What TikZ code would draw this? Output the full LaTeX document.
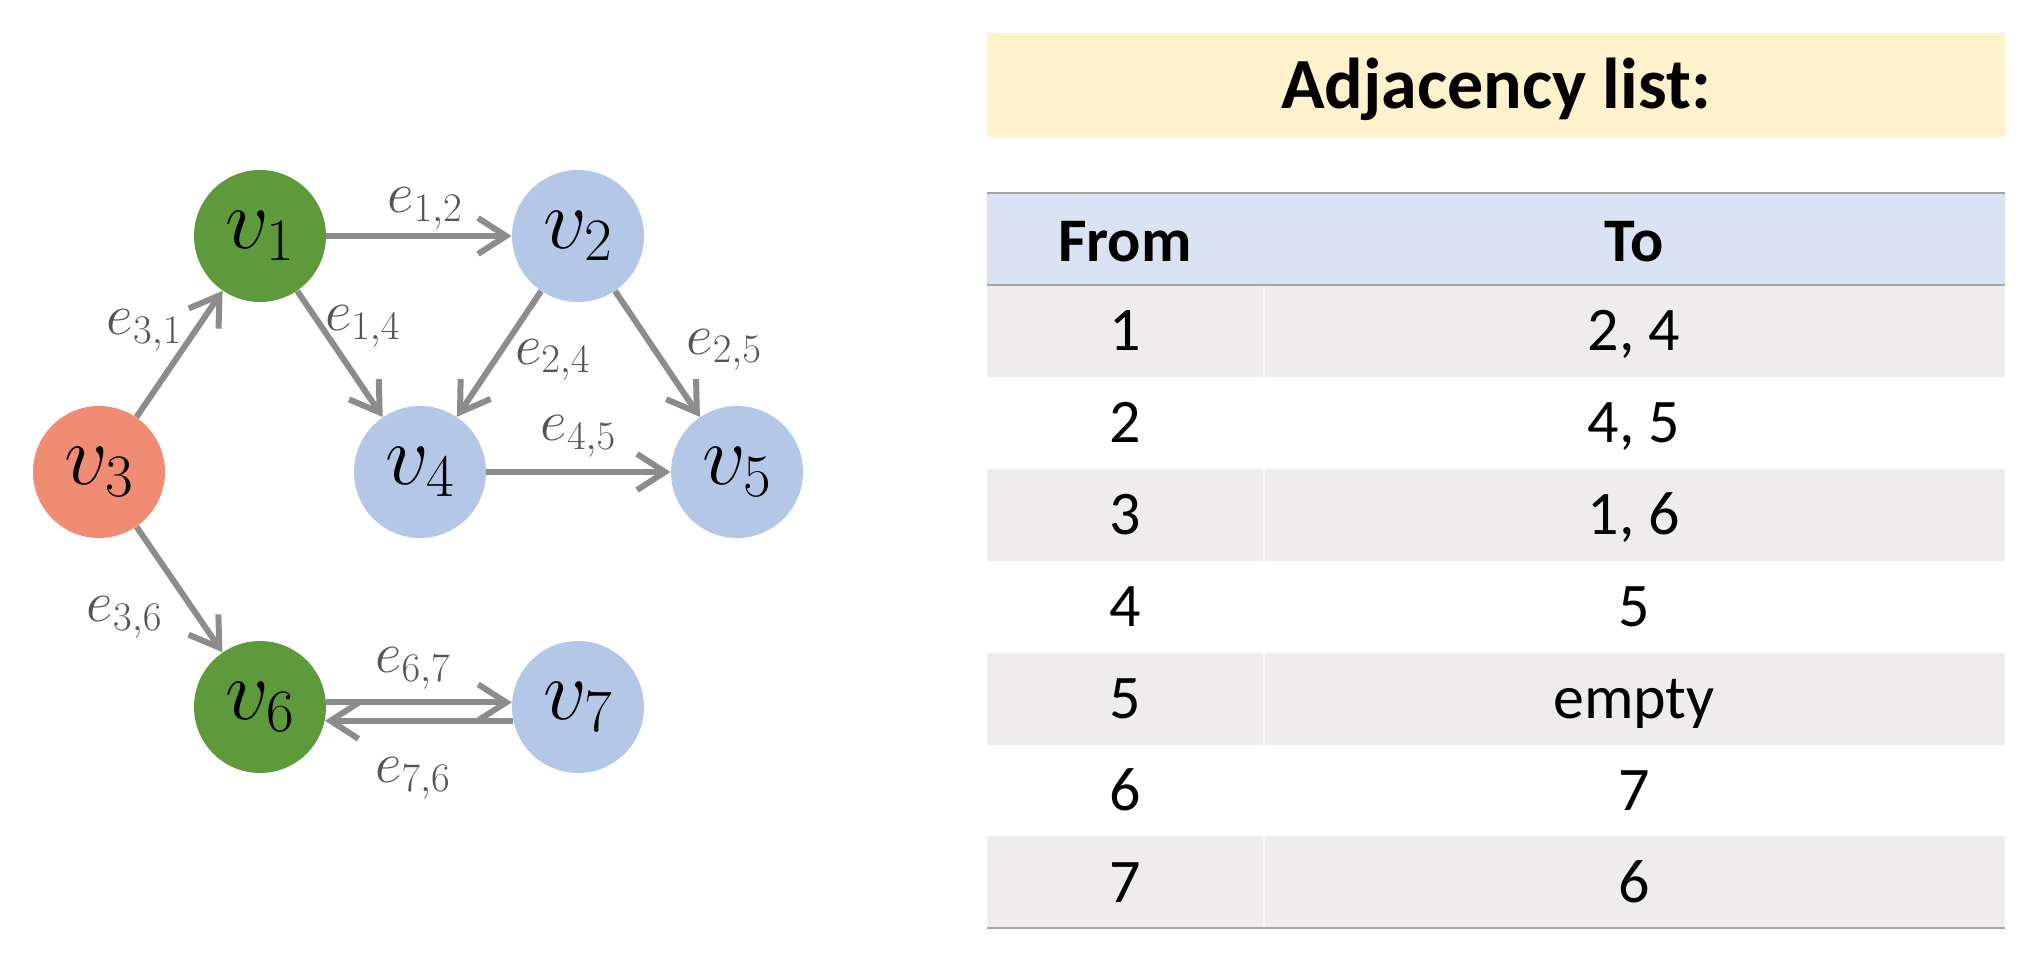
\RequirePackage{fix-cm}
\documentclass[tikz,border=0pt]{standalone}
\usepackage[no-math]{fontspec}
\newfontfamily\calibri{Carlito}
\usetikzlibrary{arrows.meta}

\definecolor{vgreen}{HTML}{5E9A3B}
\definecolor{vred}{HTML}{EF8C73}
\definecolor{vblue}{HTML}{B4C7E7}
\definecolor{arcgray}{HTML}{8C8C8C}
\definecolor{lblgray}{HTML}{555555}
\definecolor{titlebg}{HTML}{FFF2CC}
\definecolor{headbg}{HTML}{DAE3F3}
\definecolor{rowbg}{HTML}{EEECEC}
\definecolor{rulegray}{HTML}{A6A6A6}

\begin{document}
\begin{tikzpicture}[
    x=0.5pt, y=-0.5pt,
    vert/.style ={
        circle,
        minimum size=66pt,
        inner sep=0pt,
        font=\fontsize{43}{51}\selectfont
    },
    arc/.style ={
        draw=arcgray,
        line width=3pt,
        -{Straight Barb[length=14pt,width=18pt]}
    },
    lbl/.style ={
        text=lblgray,
        inner sep=2pt,
        font=\fontsize{29}{35}\selectfont
    },
    cell/.style ={
        anchor=base,
        font=\calibri\fontsize{31}{37}\selectfont
    },
    rule/.style ={
        draw=rulegray,
        line width=1.1pt
    }
    ]
    \useasboundingbox (0,0) rectangle (2034,962);

    % graph
    \foreach \x/ \col/ \pos in {{1/vgreen/(260,236)}, {2/vblue/(578,236)}, {3/vred/(99,472)},
                                {4/vblue/(420,472)}, {5/vblue/(737,472)}, {6/vgreen/(260,707)},
                                {7/vblue/(578,707)}}
        \node[vert, fill=\col] (v\x) at \pos {$v_{\x}$};

    \foreach \src/ \dst/ \ix/ \anc/ \dx/ \dy in {v1/v2/{1,2}/south/3/0, v3/v1/{3,1}/south east/5/-2,
                                               v1/v4/{1,4}/south west/-11/0, v2/v4/{2,4}/west/4.5/-3,
                                               v2/v5/{2,5}/west/11/2, v4/v5/{4,5}/south/0/4,
                                               v3/v6/{3,6}/north east/-5/0, v6.4/v7.176/{6,7}/south/-3/3,
                                               v7.192/v6.348/{7,6}/north/-3/-15}
        \draw[arc] (\src) -- node[lbl, anchor=\anc, xshift=\dx pt, yshift=\dy pt] {$e_{\ix}$} (\dst);

    % adjacency list
    \fill[titlebg] (987,33) rectangle (2005,137);
    \node[cell, font=\calibri\bfseries\fontsize{36}{43}\selectfont] (title) at (1496,109) {Adjacency list:};

    \fill[headbg] (987,193) rectangle (2005,285);
    \node[cell, font=\calibri\bfseries\fontsize{31}{37}\selectfont] (hfrom) at (1125,262) {From};
    \node[cell, font=\calibri\bfseries\fontsize{31}{37}\selectfont] (hto) at (1634,262) {To};

    \foreach \r/ \from/ \to in {1/1/{2, 4}, 2/2/{4, 5}, 3/3/{1, 6}, 4/4/5, 5/5/empty, 6/6/7, 7/7/6} {
        \pgfmathsetmacro\ytop{285+(\r-1)*91.9}
        \pgfmathsetmacro\ybot{285+\r*91.9}
        \pgfmathsetmacro\ybase{285+(\r-0.5)*91.9+20}
        \ifodd\r
            \fill[rowbg] (987,\ytop) rectangle (2005,\ybot);
            \draw[white!60!rowbg, line width=0.6pt] (1264,\ytop) -- (1264,\ybot);
        \fi
        \node[cell] (from\r) at (1125,\ybase) {\from};
        \node[cell] (to\r) at (1634,\ybase) {\to};
    }

    \draw[rule] (987,193) -- (2005,193);
    \draw[rule] (987,285) -- (2005,285);
    \draw[rule] (987,928) -- (2005,928);

\end{tikzpicture}
\end{document}
